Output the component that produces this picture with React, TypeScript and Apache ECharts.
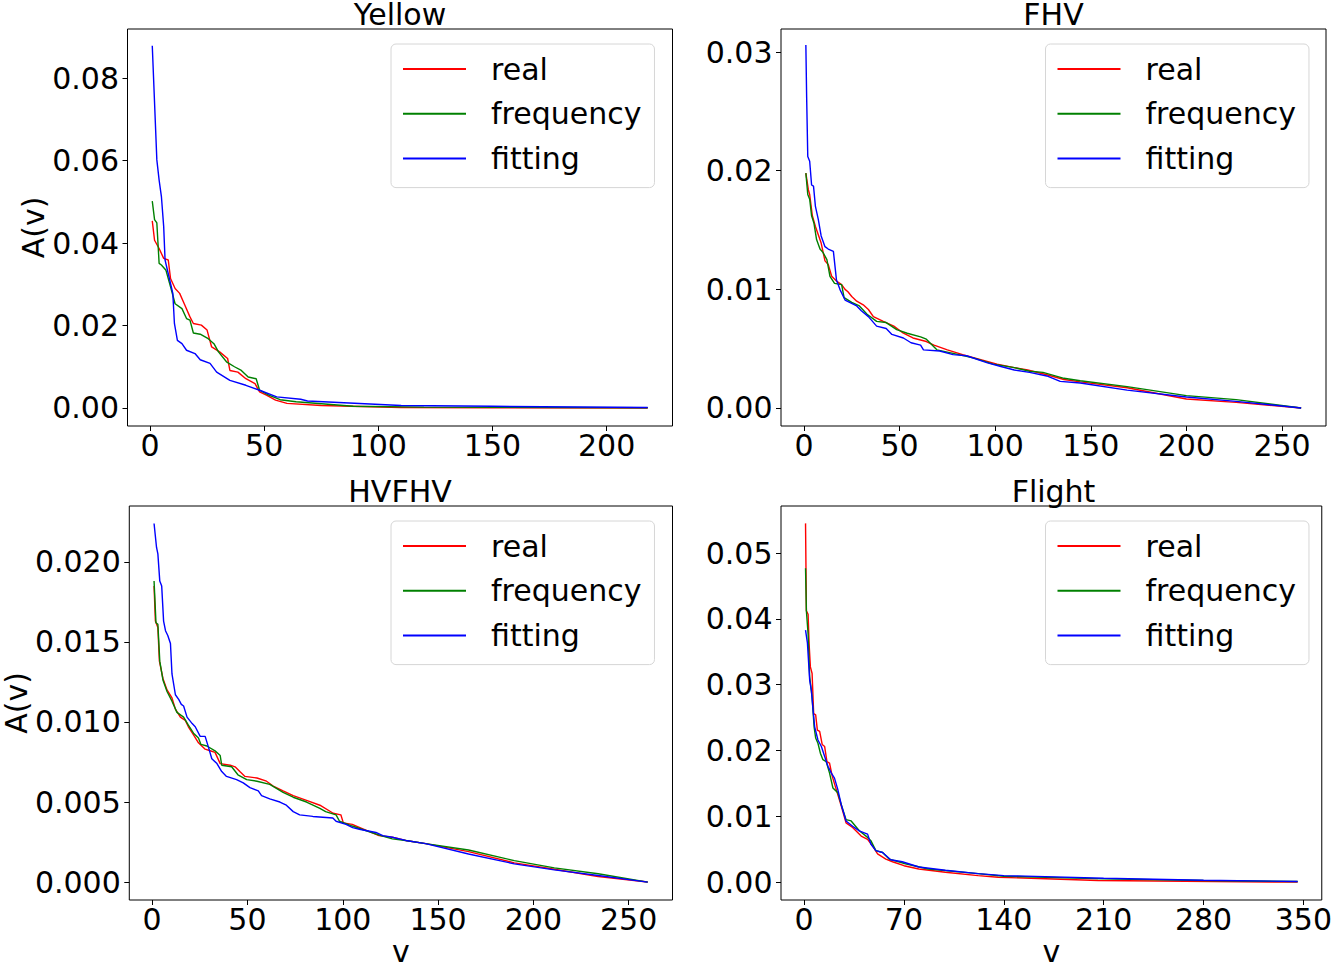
import React, { useEffect, useRef } from "react";
import * as echarts from "echarts";

// ---------- data ----------
const seriesNames = ["real", "frequency", "fitting"];
const seriesColors = ["#ff0000", "#008000", "#0000ff"];
const panelTitles = ["Yellow", "FHV", "HVFHV", "Flight"];

const yellowReal = [[1,0.0454],[2,0.0407],[4,0.0387],[6,0.0363],[8,0.0359],[9,0.0314],[11,0.029],[13,0.0278],[15,0.0253],[17.5,0.0221],[19,0.0205],[22.5,0.0201],[25,0.0189],[27,0.0148],[30.5,0.0136],[34,0.012],[35,0.0091],[38.5,0.0087],[42,0.0071],[46,0.0059],[48,0.0039],[51,0.0031],[55,0.0019],[60,0.0011],[75,0.0006],[110,0.0001],[150,0.00005],[218,0.0]];
const yellowFreq = [[1,0.0502],[2,0.0457],[3,0.0449],[4,0.0351],[5,0.0347],[7,0.0334],[9,0.0294],[11,0.0253],[14,0.0241],[16,0.0217],[17.5,0.0213],[19,0.0182],[22,0.0179],[25.5,0.0168],[28,0.0156],[30,0.0136],[33.5,0.0112],[37,0.01],[40,0.0091],[43,0.0075],[46.5,0.0071],[48,0.0043],[52,0.0031],[57,0.002],[64,0.0015],[89,0.0004],[120,0.0002],[218,0.00005]];
const yellowFit = [[1,0.0879],[3,0.0602],[4,0.0553],[5,0.0513],[6,0.044],[6.6,0.0359],[9,0.0302],[10,0.0278],[10.7,0.0205],[12,0.0164],[14,0.0156],[16,0.014],[19.7,0.0132],[22,0.0117],[26.3,0.0108],[29.2,0.0087],[35,0.0067],[42,0.0055],[48,0.0043],[55.5,0.0027],[66,0.0021],[69,0.0017],[110,0.0006],[150,0.0004],[218,0.0001]];

const fhvReal = [[1,0.0198],[2.3,0.0184],[3,0.018],[4.4,0.0162],[6,0.0153],[7.5,0.0146],[9,0.0139],[11,0.0124],[12.7,0.0121],[14.5,0.0111],[17,0.0107],[19.7,0.0104],[21.5,0.01],[23,0.0098],[25,0.0094],[27.6,0.009],[31,0.0087],[33.7,0.0083],[36.3,0.0077],[41.5,0.0073],[47,0.0069],[52,0.0063],[57,0.0059],[64,0.0056],[68,0.0053],[75,0.0049],[83,0.0045],[92,0.0041],[101,0.0037],[110,0.0034],[117,0.0032],[127,0.0028],[136,0.0024],[144.5,0.0022],[169,0.0017],[200,0.00076],[226,0.00047],[260,0.0]];
const fhvFreq = [[1,0.0198],[2,0.018],[3,0.0176],[4,0.0162],[5.2,0.0156],[6.6,0.0142],[8.4,0.0134],[10,0.0131],[12,0.0125],[13.6,0.0111],[16,0.0105],[19.7,0.0104],[21,0.0093],[25,0.0089],[29,0.0086],[33,0.0079],[38,0.0073],[43,0.0072],[48.5,0.0066],[54,0.0063],[61,0.006],[64,0.0058],[69.5,0.0049],[78,0.0046],[89,0.0042],[99,0.0037],[110,0.0034],[118,0.0031],[125,0.003],[136,0.0025],[144.5,0.0023],[169,0.0018],[200,0.00104],[226,0.0007],[260,0.0]];
const fhvFit = [[1,0.0306],[1.4,0.0263],[2,0.0212],[3,0.0208],[4,0.0188],[5,0.0187],[6,0.017],[7.5,0.0159],[9,0.0145],[11,0.0136],[12.7,0.0134],[15.4,0.0132],[17,0.0108],[18.8,0.01],[21.5,0.0091],[27.6,0.0086],[30,0.0082],[33.7,0.0077],[38,0.0069],[43,0.0067],[46,0.0062],[52,0.0059],[56,0.0055],[61,0.0053],[62.5,0.0049],[71,0.0048],[78,0.0045],[85,0.0044],[96,0.0038],[103,0.0035],[110,0.0032],[118,0.003],[127,0.0027],[134,0.00224],[144.5,0.0021],[169,0.0015],[200,0.00093],[226,0.00056],[260,0.0]];

const hvfhvReal = [[1,0.0185],[1.7,0.0163],[3,0.0159],[3.8,0.0138],[5.7,0.0127],[7.8,0.012],[10.4,0.0115],[12.2,0.0108],[14.8,0.0103],[17.4,0.0101],[19,0.0097],[21.7,0.0092],[24.3,0.0087],[27.8,0.0083],[30.4,0.0082],[33,0.0081],[35.7,0.0074],[41,0.0073],[43.5,0.0072],[46,0.0069],[48.7,0.0066],[55,0.0065],[60,0.0063],[63.5,0.006],[68.7,0.0057],[74,0.0054],[81,0.0051],[88,0.0048],[95,0.0043],[99,0.0042],[100.3,0.0037],[105,0.0036],[109,0.0034],[119,0.0029],[126,0.0028],[133,0.0026],[143.5,0.0024],[166,0.0019],[190,0.0012],[211,0.0008],[234,0.00035],[260,0.0]];
const hvfhvFreq = [[1,0.0188],[2,0.0162],[3,0.0161],[4,0.0138],[5.7,0.0126],[7.8,0.0119],[10.4,0.0113],[13,0.0106],[16.5,0.0103],[19,0.0098],[21.7,0.0093],[24.3,0.009],[25.6,0.0086],[28.7,0.0085],[33,0.0082],[35.7,0.0079],[36.5,0.0073],[41.7,0.0072],[45,0.0067],[49.6,0.0064],[55,0.0063],[61.7,0.0061],[68.7,0.0056],[74,0.0053],[81,0.005],[88,0.0046],[91,0.0044],[96.5,0.0042],[98.3,0.0038],[105,0.0035],[110,0.0033],[120,0.0029],[126,0.0027],[133,0.0026],[143.5,0.0024],[166,0.002],[190,0.00134],[211,0.00089],[234,0.00052],[260,0.0]];
const hvfhvFit = [[1,0.0224],[2.3,0.0209],[3,0.0205],[4,0.0188],[5,0.0185],[6,0.0163],[7,0.0157],[8.2,0.0154],[9.6,0.0149],[10.4,0.013],[12.2,0.0117],[14,0.0114],[15.3,0.0111],[16.5,0.011],[18.3,0.0103],[21,0.0099],[22.6,0.0097],[25.2,0.0091],[27.8,0.0091],[29.6,0.0084],[31.3,0.0077],[34,0.0074],[36.5,0.0069],[39,0.0066],[44.3,0.0064],[47.8,0.0062],[51.3,0.0059],[55.7,0.0057],[57.4,0.0054],[61.7,0.0052],[67,0.005],[70.4,0.0048],[74,0.0044],[77.4,0.0042],[84.3,0.0041],[94.8,0.004],[96.5,0.0038],[101.7,0.0036],[105.2,0.0034],[108.7,0.0033],[117.4,0.0031],[121,0.0029],[126,0.0028],[133,0.0026],[143.5,0.0024],[166,0.00175],[190,0.00114],[211,0.00076],[234,0.00041],[260,0.0]];

const flightReal = [[1,0.0545],[1.6,0.0412],[2.8,0.0407],[3.5,0.0362],[4.4,0.0327],[5.6,0.0317],[6.7,0.0256],[8.1,0.0254],[9.3,0.0231],[10.9,0.0229],[12.7,0.0209],[14.4,0.0206],[16,0.0183],[17.8,0.0181],[19.7,0.0161],[22.5,0.0141],[26,0.0116],[29.4,0.009],[34,0.0083],[40,0.007],[44.5,0.0065],[48,0.0055],[51.5,0.0043],[57.3,0.0035],[62,0.0031],[70,0.0025],[80.4,0.002],[99,0.0015],[122,0.001],[136,0.00075],[206,0.00025],[346,0.0]];
const flightFreq = [[1,0.0477],[1.6,0.0412],[2.8,0.0377],[3.9,0.0312],[5.6,0.0281],[7,0.0236],[8.1,0.0219],[9.7,0.0211],[11.4,0.0196],[13.2,0.0186],[15.5,0.0183],[17.8,0.0166],[20.2,0.0143],[23.6,0.0136],[27,0.0111],[29.4,0.0095],[33,0.0093],[38.7,0.0078],[44.5,0.0068],[46.8,0.0063],[50.3,0.0048],[55,0.0045],[59.6,0.0035],[71,0.0028],[87,0.002],[122,0.0013],[140,0.0009],[210,0.0005],[280,0.00025],[346,0.0001]];
const flightFit = [[1,0.0383],[2.3,0.0364],[3.9,0.0307],[5.1,0.0291],[6.3,0.0261],[7.4,0.0236],[9.7,0.0216],[12.1,0.0206],[14.4,0.0191],[16.7,0.0176],[19,0.0166],[21.3,0.0158],[23.6,0.0141],[26,0.0118],[29.4,0.0093],[34,0.0085],[38.7,0.0078],[42.2,0.0075],[44.5,0.0073],[46.8,0.0058],[50.3,0.0048],[55,0.0045],[60.7,0.0034],[68.8,0.0031],[80.4,0.0023],[99,0.0018],[122,0.0013],[140,0.001],[210,0.0006],[280,0.0003],[346,0.0001]];

const yellowXTicks = [0, 50, 100, 150, 200];
const fhvXTicks = [0, 50, 100, 150, 200, 250];
const hvfhvXTicks = [0, 50, 100, 150, 200, 250];
const flightXTicks = [0, 70, 140, 210, 280, 350];
const yellowYTicks = [0, 0.02, 0.04, 0.06, 0.08];
const fhvYTicks = [0, 0.01, 0.02, 0.03];
const hvfhvYTicks = [0, 0.005, 0.01, 0.015, 0.02];
const flightYTicks = [0, 0.01, 0.02, 0.03, 0.04, 0.05];

// ---------- layout ----------
const FONT = "DejaVu Sans";
const panels = [
  { title: panelTitles[0], data: [yellowReal, yellowFreq, yellowFit], xTicks: yellowXTicks, yTicks: yellowYTicks, xMin: -9.85, xMax: 228.85, yMin: -0.00438, yMax: 0.09196, digits: 2, left: 127.5, top: 29, showY: true, showX: false },
  { title: panelTitles[1], data: [fhvReal, fhvFreq, fhvFit], xTicks: fhvXTicks, yTicks: fhvYTicks, xMin: -12, xMax: 273, yMin: -0.00152, yMax: 0.03195, digits: 2, left: 781, top: 29, showY: false, showX: false },
  { title: panelTitles[2], data: [hvfhvReal, hvfhvFreq, hvfhvFit], xTicks: hvfhvXTicks, yTicks: hvfhvYTicks, xMin: -12, xMax: 273, yMin: -0.00112, yMax: 0.02349, digits: 3, left: 127.5, top: 506, showY: true, showX: true },
  { title: panelTitles[3], data: [flightReal, flightFreq, flightFit], xTicks: flightXTicks, yTicks: flightYTicks, xMin: -16.2, xMax: 362.9, yMin: -0.00271, yMax: 0.05714, digits: 2, left: 781, top: 506, showY: false, showX: true },
];
const GW = 545;
const GH = 397;

function buildOption() {
  const textBase = { fontFamily: FONT, fontSize: 30, color: "#000" };
  return {
    animation: false,
    backgroundColor: "#fff",
    title: panels.map((p) => ({
      text: p.title,
      left: p.left + GW / 2,
      top: p.top - 30,
      textAlign: "center",
      padding: 0,
      textStyle: { ...textBase, fontWeight: "normal" },
    })),
    grid: panels.map((p) => ({
      left: p.left,
      top: p.top,
      width: GW,
      height: GH,
      show: true,
      borderColor: "#000",
      borderWidth: 1,
      backgroundColor: "transparent",
      containLabel: false,
    })),
    xAxis: panels.map((p, i) => ({
      type: "value",
      gridIndex: i,
      position: "bottom",
      min: p.xMin,
      max: p.xMax,
      name: p.showX ? "v" : "",
      nameLocation: "middle",
      nameGap: 36,
      nameTextStyle: { ...textBase },
      axisLine: { show: false, onZero: false },
      splitLine: { show: false },
      axisTick: { show: true, inside: false, length: 5, customValues: p.xTicks, lineStyle: { color: "#000", width: 1 } },
      axisLabel: { ...textBase, margin: 4, customValues: p.xTicks, formatter: (v: number) => String(v) },
    })),
    yAxis: panels.map((p, i) => ({
      type: "value",
      gridIndex: i,
      position: "left",
      min: p.yMin,
      max: p.yMax,
      name: p.showY ? "A(v)" : "",
      nameLocation: "middle",
      nameRotate: 90,
      nameGap: p.digits === 3 ? 97 : 76,
      nameTextStyle: { ...textBase },
      axisLine: { show: false, onZero: false },
      splitLine: { show: false },
      axisTick: { show: true, inside: false, length: 5, customValues: p.yTicks, lineStyle: { color: "#000", width: 1 } },
      axisLabel: { ...textBase, margin: 8.5, customValues: p.yTicks, formatter: (v: number) => v.toFixed(p.digits) },
    })),
    legend: panels.map((p) => ({
      left: p.left + (p.left < 500 ? 263.5 : 264.5),
      top: p.top + 15,
      orient: "vertical",
      data: seriesNames,
      selectedMode: false,
      itemWidth: 63,
      itemHeight: 30,
      itemGap: 14.8,
      padding: [10, 13, 14, 11],
      backgroundColor: "rgba(255,255,255,0.8)",
      borderColor: "#d6d6d6",
      borderWidth: 1,
      borderRadius: 5,
      itemStyle: { color: "rgba(0,0,0,0)", borderColor: "rgba(0,0,0,0)", borderWidth: 0, opacity: 0 },
      textStyle: { ...textBase, lineHeight: 30, padding: [0, 0, 0, 20] },
    })),
    series: panels.flatMap((p, i) =>
      p.data.map((d, k) => ({
        type: "line",
        name: seriesNames[k],
        xAxisIndex: i,
        yAxisIndex: i,
        data: d,
        symbol: "none",
        showSymbol: false,
        color: seriesColors[k],
        lineStyle: { color: seriesColors[k], width: 1.4 },
        emphasis: { disabled: true },
      }))
    ),
  };
}

export default function App() {
  const ref = useRef<HTMLDivElement | null>(null);
  useEffect(() => {
    if (!ref.current) return;
    const chart = echarts.init(ref.current, undefined, { renderer: "svg" });
    chart.setOption(buildOption() as any);
    return () => chart.dispose();
  }, []);
  return (
    <div
      ref={ref}
      style={{ position: "fixed", left: 0, top: 0, width: 1335, height: 967, background: "#fff" }}
    />
  );
}
